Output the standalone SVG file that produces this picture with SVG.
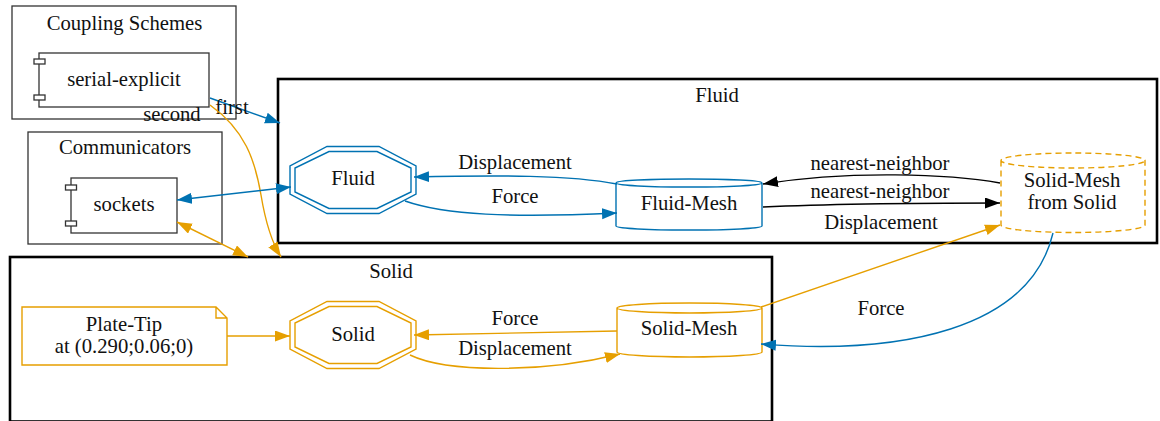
<svg xmlns="http://www.w3.org/2000/svg" width="1160" height="421" viewBox="0 0 1160 421">
<style>
text{font-family:"Liberation Serif",Times,serif;font-size:20.7px;fill:#111;text-anchor:middle}
.cl{fill:none;stroke:#333;stroke-width:1.3}
.clb{fill:none;stroke:#000;stroke-width:2.6}
.comp{fill:#fff;stroke:#333;stroke-width:1.3}
.b{fill:none;stroke:#0072B2;stroke-width:1.4}
.o{fill:none;stroke:#E69F00;stroke-width:1.4}
.k{fill:none;stroke:#000;stroke-width:1.4}
.nb{fill:#fff;stroke:#0072B2;stroke-width:1.4}
.no{fill:#fff;stroke:#E69F00;stroke-width:1.4}
.dash{stroke-dasharray:6,4}
</style>
<defs>
<marker id="ab" markerUnits="userSpaceOnUse" markerWidth="16" markerHeight="12" refX="15" refY="5.5" orient="auto-start-reverse"><path d="M0,0 L15,5.5 L0,11 z" fill="#0072B2"/></marker>
<marker id="ao" markerUnits="userSpaceOnUse" markerWidth="16" markerHeight="12" refX="15" refY="5.5" orient="auto-start-reverse"><path d="M0,0 L15,5.5 L0,11 z" fill="#E69F00"/></marker>
<marker id="ak" markerUnits="userSpaceOnUse" markerWidth="16" markerHeight="12" refX="15" refY="5.5" orient="auto-start-reverse"><path d="M0,0 L15,5.5 L0,11 z" fill="#000"/></marker>
</defs>
<rect width="1160" height="421" fill="#fff"/>

<g id="cluster-coupling">
<rect class="cl" x="12" y="6" width="224" height="113"/>
<text x="124.5" y="30">Coupling Schemes</text>
</g>
<g id="cluster-communicators">
<rect class="cl" x="28" y="132" width="194" height="112"/>
<text x="125" y="154">Communicators</text>
</g>
<g id="cluster-fluid">
<rect class="clb" x="278" y="79" width="879" height="164"/>
<text x="717" y="102">Fluid</text>
</g>
<g id="cluster-solid">
<rect class="clb" x="10" y="257" width="762" height="164.5"/>
<text x="391" y="278">Solid</text>
</g>

<g id="node-serial-explicit">
<rect class="comp" x="39" y="53" width="170" height="54"/>
<rect class="comp" x="34" y="59" width="11" height="5"/>
<rect class="comp" x="34" y="95" width="11" height="5"/>
<text x="124" y="86">serial-explicit</text>
</g>
<g id="node-sockets">
<rect class="comp" x="71" y="178" width="106" height="55"/>
<rect class="comp" x="65.5" y="185" width="11" height="5"/>
<rect class="comp" x="65.5" y="221" width="11" height="5"/>
<text x="124" y="211">sockets</text>
</g>
<g id="node-fluid">
<polygon class="nb" points="327,146.5 379,146.5 416,166 416,194 379,213.5 327,213.5 290,194 290,166"/>
<polygon class="nb" points="329,151.5 377,151.5 411,168 411,192 377,208.5 329,208.5 295,192 295,168"/>
<text x="353" y="185">Fluid</text>
</g>
<g id="node-fluid-mesh">
<path class="nb" d="M616,183 L616,226 A73,4 0 0 0 762,226 L762,183 A73,4 0 0 0 616,183 A73,4 0 0 0 762,183"/>
<text x="689" y="210">Fluid-Mesh</text>
</g>
<g id="node-solid-mesh-from-solid">
<path class="no dash" d="M1001,160.5 L1001,225 A72,7.5 0 0 0 1145,225 L1145,160.5 A72,7.5 0 0 0 1001,160.5 A72,7.5 0 0 0 1145,160.5"/>
<text x="1072" y="187">Solid-Mesh</text>
<text x="1072" y="209">from Solid</text>
</g>
<g id="node-plate-tip">
<path class="no" d="M22,307 L216,307 L227,318 L227,365 L22,365 Z M216,307 L216,318 L227,318"/>
<text x="124" y="331">Plate-Tip</text>
<text x="124" y="353">at (0.290;0.06;0)</text>
</g>
<g id="node-solid">
<polygon class="no" points="327,301.5 379,301.5 416,321 416,349 379,368.5 327,368.5 290,349 290,321"/>
<polygon class="no" points="329,306.5 377,306.5 411,323 411,347 377,363.5 329,363.5 295,347 295,323"/>
<text x="353" y="341">Solid</text>
</g>
<g id="node-solid-mesh">
<path class="no" d="M617,308 L617,352 A72.5,5 0 0 0 762,352 L762,308 A72.5,5 0 0 0 617,308 A72.5,5 0 0 0 762,308"/>
<text x="689" y="335">Solid-Mesh</text>
</g>

<g id="connectors">
<path class="b" d="M210,98 L280,123" marker-end="url(#ab)"/>
<text x="232" y="114">first</text>
<path class="o" d="M210,105 C245,130 255,160 261,195 C266,225 272,243 281,257" marker-end="url(#ao)"/>
<text x="172" y="121">second</text>
<path class="b" d="M177,200 L291,187" marker-start="url(#ab)" marker-end="url(#ab)"/>
<path class="o" d="M177,222 L248,257" marker-start="url(#ao)" marker-end="url(#ao)"/>

<path class="b" d="M617,184 C570,175 500,175 414,177" marker-end="url(#ab)"/>
<text x="515" y="169">Displacement</text>
<path class="b" d="M405,201 C445,215 510,218 617,213" marker-end="url(#ab)"/>
<text x="515" y="203">Force</text>

<path class="k" d="M1000,183 C950,174 850,170 763,184" marker-end="url(#ak)"/>
<text x="880" y="170">nearest-neighbor</text>
<path class="k" d="M763,207 C850,203 930,203 1000,203" marker-end="url(#ak)"/>
<text x="880" y="198">nearest-neighbor</text>
<text x="881" y="229">Displacement</text>

<path class="o" d="M227,336 L290,336" marker-end="url(#ao)"/>
<path class="o" d="M617,331 L414,335" marker-end="url(#ao)"/>
<text x="515" y="325">Force</text>
<path class="o" d="M410,355 C445,372 540,374 620,354" marker-end="url(#ao)"/>
<text x="515" y="355">Displacement</text>

<path class="o" d="M761,307 L1000,225" marker-end="url(#ao)"/>
<path class="b" d="M1053,233 C1030,330 900,355 761,344" marker-end="url(#ab)"/>
<text x="881" y="315">Force</text>
</g>
</svg>
